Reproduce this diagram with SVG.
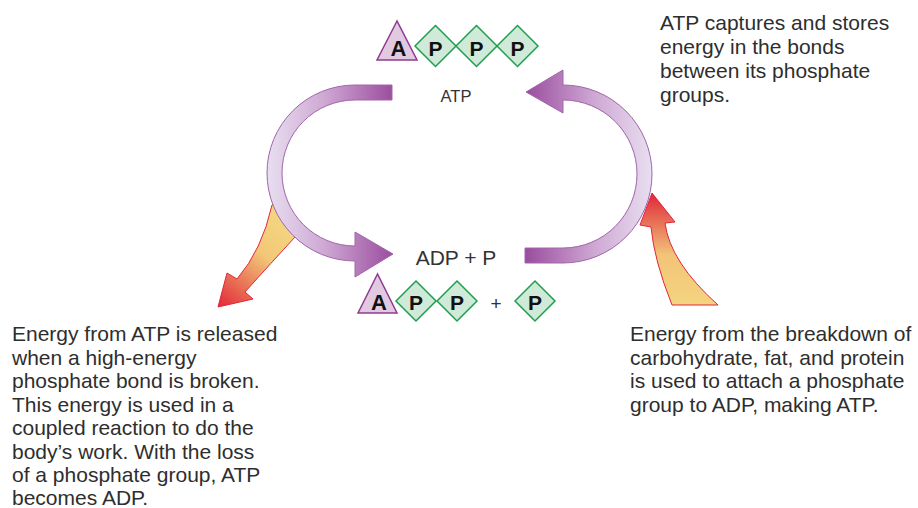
<svg xmlns="http://www.w3.org/2000/svg" width="918" height="508" viewBox="0 0 918 508">
  <style>
    .body { font-family: "Liberation Sans", Arial, sans-serif; font-size: 21px; fill: #2e2e2e; }
    .lbl { font-family: "Liberation Sans", Arial, sans-serif; fill: #333; text-anchor: middle; }
    .sym { font-family: "Liberation Sans", Arial, sans-serif; font-weight: bold; font-size: 21px; fill: #111; text-anchor: middle; }
    .big { font-size: 22px; }
    .tri { fill: #e2c9e2; stroke: #8e3c8e; stroke-width: 1.5; }
    .dia { fill: #d0eada; stroke: #1f9e4e; stroke-width: 1.5; }
    .cyc { stroke: #a066aa; stroke-width: 1; }
    .nrg { stroke: #e2243c; stroke-width: 1; }
  </style>
  <defs>
    <linearGradient id="gLeft" gradientUnits="userSpaceOnUse" x1="267" y1="0" x2="393" y2="0">
      <stop offset="0" stop-color="#e8dff0"/>
      <stop offset="0.45" stop-color="#cfa9d4"/>
      <stop offset="1" stop-color="#9a4d9e"/>
    </linearGradient>
    <linearGradient id="gRight" gradientUnits="userSpaceOnUse" x1="526" y1="0" x2="652" y2="0">
      <stop offset="0" stop-color="#9a4d9e"/>
      <stop offset="0.55" stop-color="#cfa9d4"/>
      <stop offset="1" stop-color="#e8dff0"/>
    </linearGradient>
    <linearGradient id="oDown" gradientUnits="userSpaceOnUse" x1="285" y1="225" x2="220" y2="306">
      <stop offset="0" stop-color="#f4d47f"/>
      <stop offset="0.35" stop-color="#f2c878"/>
      <stop offset="1" stop-color="#e22c3a"/>
    </linearGradient>
    <linearGradient id="oUp" gradientUnits="userSpaceOnUse" x1="0" y1="194" x2="0" y2="305">
      <stop offset="0" stop-color="#e0283a"/>
      <stop offset="0.55" stop-color="#f2c478"/>
      <stop offset="1" stop-color="#f4d47f"/>
    </linearGradient>
  </defs>

  <!-- energy arrows (drawn beneath the cycle) and cycle arrows -->
  <g id="connectors">
    <path id="energy-out" class="nrg" fill="url(#oDown)"
          d="M280,202 L272,205 Q262,250 237,279 L227,273 L218,307 L253,299 L245,292 Q272,262 295,237 L300,231 Z"/>
    <path id="energy-in" class="nrg" fill="url(#oUp)"
          d="M652,193 L640,225 L651,227 Q654,260 672,305 L718,305 Q670,262 665,223 L675,222 Z"/>
    <path id="cycle-left" class="cyc" fill="url(#gLeft)"
          d="M392,85 L355,85 A88,88 0 0 0 355,261 L355,277 L393,254 L355,232 L355,246 A73,73 0 0 1 355,100 L392,100 Z"/>
    <path id="cycle-right" class="cyc" fill="url(#gRight)"
          d="M525,248 L563,248 A74,74 0 0 0 563,100 L563,113 L526,92 L563,70 L563,85 A89,89 0 0 1 563,263 L525,263 Z"/>
  </g>

  <!-- ATP molecule -->
  <g id="atp">
    <polygon class="tri" points="397,21 377,60 417,60"/>
    <text class="sym big" x="398.5" y="55.5">A</text>
    <polygon class="dia" points="415,46 435.5,25.5 456,46 435.5,66.5"/>
    <text class="sym" x="435.5" y="55.5">P</text>
    <polygon class="dia" points="456,46 476.5,25.5 497,46 476.5,66.5"/>
    <text class="sym" x="476.5" y="55.5">P</text>
    <polygon class="dia" points="497,46 517.5,25.5 538,46 517.5,66.5"/>
    <text class="sym" x="517.5" y="55.5">P</text>
    <text class="lbl" x="456" y="102" font-size="16.5">ATP</text>
  </g>

  <!-- ADP + phosphate -->
  <g id="adp">
    <text class="lbl" x="456" y="265" font-size="21">ADP + P</text>
    <polygon class="tri" points="377.5,274 358,313 397,313"/>
    <text class="sym big" x="379" y="309.5">A</text>
    <polygon class="dia" points="396,301 416,281 436,301 416,321"/>
    <text class="sym" x="416" y="309.5">P</text>
    <polygon class="dia" points="437,301 457,281 477,301 457,321"/>
    <text class="sym" x="457" y="309.5">P</text>
    <text class="lbl" x="496" y="310" font-size="19">+</text>
    <polygon class="dia" points="515,301 535,281 555,301 535,321"/>
    <text class="sym" x="535" y="309.5">P</text>
  </g>

  <!-- explanatory notes -->
  <g id="note-store">
    <text class="body" x="660" y="30">ATP captures and stores</text>
    <text class="body" x="660" y="54">energy in the bonds</text>
    <text class="body" x="660" y="78">between its phosphate</text>
    <text class="body" x="660" y="102">groups.</text>
  </g>
  <g id="note-release">
    <text class="body" x="12" y="341">Energy from ATP is released</text>
    <text class="body" x="12" y="364.5">when a high-energy</text>
    <text class="body" x="12" y="388">phosphate bond is broken.</text>
    <text class="body" x="12" y="411.5">This energy is used in a</text>
    <text class="body" x="12" y="435">coupled reaction to do the</text>
    <text class="body" x="12" y="458.5">body’s work. With the loss</text>
    <text class="body" x="12" y="482">of a phosphate group, ATP</text>
    <text class="body" x="12" y="505">becomes ADP.</text>
  </g>
  <g id="note-make">
    <text class="body" x="630" y="341">Energy from the breakdown of</text>
    <text class="body" x="630" y="364.5">carbohydrate, fat, and protein</text>
    <text class="body" x="630" y="388">is used to attach a phosphate</text>
    <text class="body" x="630" y="411.5">group to ADP, making ATP.</text>
  </g>
</svg>
